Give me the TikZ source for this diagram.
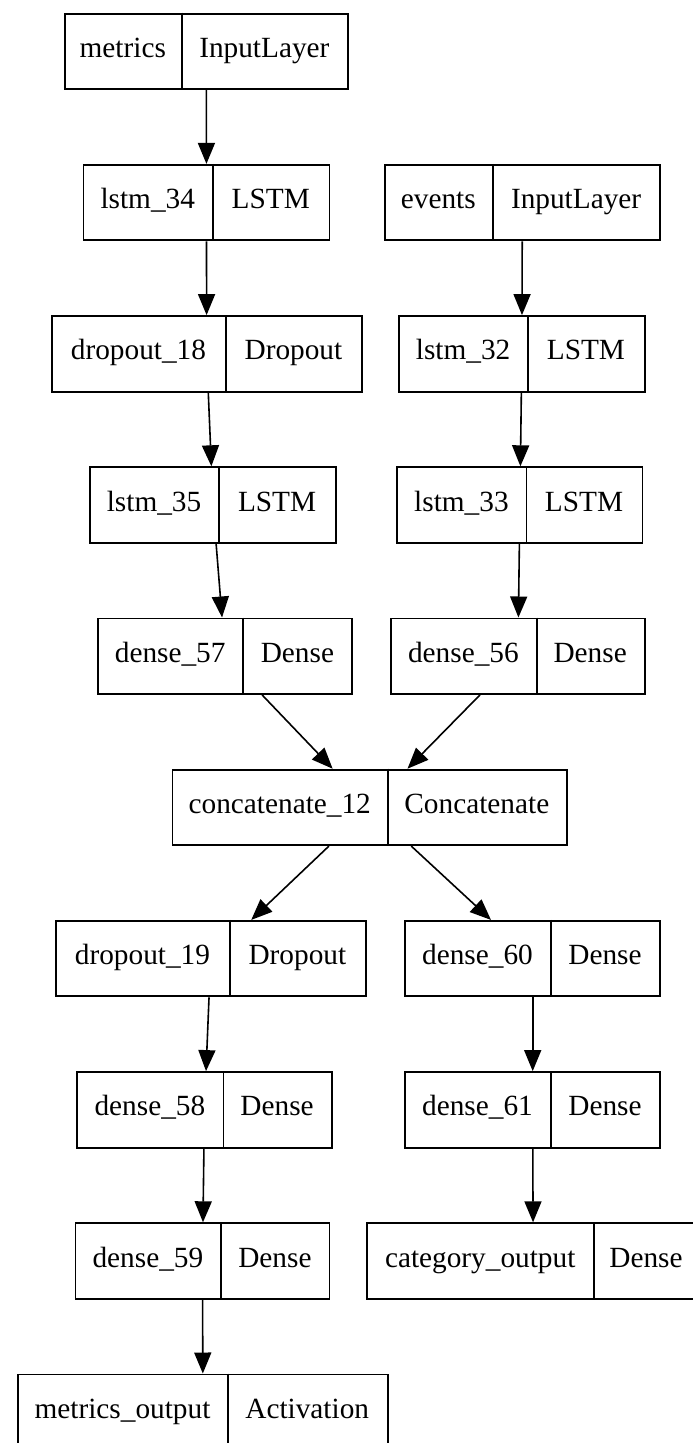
\documentclass[tikz,border=0pt]{standalone}
\usepackage{fontspec}
\setmainfont{Liberation Serif}
\usetikzlibrary{arrows.meta}

\tikzset{
  layer/.style={draw=black, line width=1.9pt, inner sep=0pt,
                minimum height=75.5pt, anchor=north west},
  divider/.style={line width=1.9pt},
  lbl/.style={inner sep=0pt, anchor=base, font=\fontsize{29.3}{32}\selectfont},
  flow/.style={line width=1.6pt, -{Triangle[length=21pt,width=17pt]}},
}

% #1 name, #2 left x, #3 divider x, #4 right x, #5 top y, #6 layer name, #7 layer type
\newcommand\layerbox[7]{%
  \node[layer, minimum width={(#4-#2)*1pt}] (#1) at (#2,#5) {};
  \draw[divider] (#3,#5) -- (#3,{#5+75.5});
  \node[lbl] (#1-l) at ({(#2+#3)/2},{#5+44.8}) {#6};
  \node[lbl] (#1-r) at ({(#3+#4)/2},{#5+44.8}) {#7};
}

\begin{document}
\begin{tikzpicture}[x=1pt,y=-1pt]
  \useasboundingbox (0,0) rectangle (693,1443);
  \clip (0,0) rectangle (693,1443);

  % metrics branch
  \layerbox{metrics}{63.9}{181.7}{347}{12.7}{metrics}{InputLayer}
  \layerbox{lstm34}{82.5}{213}{328.5}{163.9}{lstm\_34}{LSTM}
  \layerbox{dropout18}{50.7}{226.2}{360.7}{315.1}{dropout\_18}{Dropout}
  \layerbox{lstm35}{89}{219.1}{335.1}{466.3}{lstm\_35}{LSTM}
  \layerbox{dense57}{97}{243.4}{351.4}{617.5}{dense\_57}{Dense}

  % events branch
  \layerbox{events}{383.6}{493}{659.2}{163.9}{events}{InputLayer}
  \layerbox{lstm32}{398.1}{528.2}{643.7}{315.1}{lstm\_32}{LSTM}
  \layerbox{lstm33}{396.4}{526.5}{641.5}{466.3}{lstm\_33}{LSTM}
  \layerbox{dense56}{390.2}{536.6}{643.7}{617.5}{dense\_56}{Dense}

  % merge
  \layerbox{concat}{171.5}{388}{565.7}{768.7}{concatenate\_12}{Concatenate}

  % metrics head
  \layerbox{dropout19}{54.7}{230.2}{364.6}{919.9}{dropout\_19}{Dropout}
  \layerbox{dense58}{76.3}{223.5}{330.7}{1071.1}{dense\_58}{Dense}
  \layerbox{dense59}{74.5}{221.3}{328.5}{1222.3}{dense\_59}{Dense}
  \layerbox{metricsout}{17.3}{227.7}{386.7}{1373.5}{metrics\_output}{Activation}

  % category head
  \layerbox{dense60}{404.3}{550.7}{659.2}{919.9}{dense\_60}{Dense}
  \layerbox{dense61}{404.3}{550.7}{659.2}{1071.1}{dense\_61}{Dense}
  \layerbox{category}{366.4}{594}{698}{1222.3}{category\_output}{Dense}

  % connections
  \draw[flow] (metrics) -- (lstm34);
  \draw[flow] (lstm34) -- (dropout18);
  \draw[flow] (dropout18) -- (lstm35);
  \draw[flow] (lstm35) -- (dense57);
  \draw[flow] (events) -- (lstm32);
  \draw[flow] (lstm32) -- (lstm33);
  \draw[flow] (lstm33) -- (dense56);
  \draw[flow] (dense57) -- (concat);
  \draw[flow] (dense56) -- (concat);
  \draw[flow] (concat) -- (dropout19);
  \draw[flow] (concat) -- (dense60);
  \draw[flow] (dropout19) -- (dense58);
  \draw[flow] (dense58) -- (dense59);
  \draw[flow] (dense59) -- (metricsout);
  \draw[flow] (dense60) -- (dense61);
  \draw[flow] (dense61) -- (category);
\end{tikzpicture}
\end{document}
